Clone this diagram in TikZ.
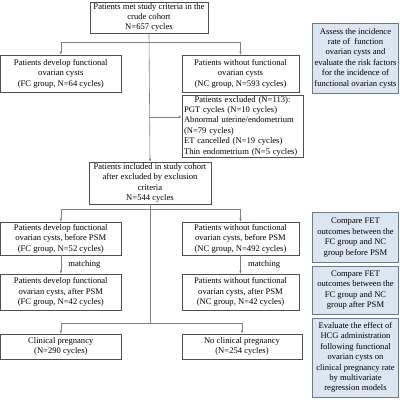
\documentclass[tikz,border=0pt]{standalone}
\usepackage{fontspec}
\setmainfont{Liberation Serif}
\usepackage{tikz}
\usetikzlibrary{positioning,calc,arrows.meta}
\definecolor{boxgray}{HTML}{4F4F4F}
\definecolor{linegray}{HTML}{7F7F7F}
\definecolor{aimblue}{HTML}{DCE6F1}
\definecolor{aimedge}{HTML}{6B7886}

\begin{document}
\begin{tikzpicture}[
x=1pt, y=1pt,
font=\fontsize{8.6}{10.4}\selectfont,
flowbox/.style={rectangle, draw=boxgray, fill=white, line width=0.6pt, align=center, inner sep=1pt},
aimbox/.style={rectangle, draw=aimedge, fill=aimblue, line width=0.7pt, align=center, inner sep=1pt, minimum width=86pt},
link/.style={draw=linegray, line width=0.6pt},
arrow/.style={link, -{Latex[length=3pt,width=2.6pt]}},
]
\useasboundingbox (0,0) rectangle (400,-400);

% main column
\node[flowbox, minimum width=118pt, minimum height=31pt] (crude) at (149,-17.5)
  {Patients met study criteria in the\\crude cohort\\N=657 cycles};
\node[flowbox, minimum width=120pt, minimum height=37pt] (fcall) at (60.8,-73.5)
  {Patients develop functional\\ovarian cysts\\(FC group, N=64 cycles)};
\node[flowbox, minimum width=117pt, minimum height=37pt] (ncall) at (240.5,-73.5)
  {Patients without functional\\ovarian cysts\\(NC group, N=593 cycles)};
\node[flowbox, minimum width=121pt, minimum height=60pt, text width=117pt, align=left] (excl) at (242.5,-126)
  {\makebox[117pt]{Patients excluded (N=113):}\\
   PGT cycles (N=10 cycles)\\Abnormal uterine/endometrium\\(N=79 cycles)\\
   ET cancelled (N=19 cycles)\\Thin endometrium (N=5 cycles)};
\node[flowbox, minimum width=122pt, minimum height=42pt] (incl) at (150,-183)
  {Patients included in study cohort\\after excluded by exclusion\\criteria\\N=544 cycles};
\node[flowbox, minimum width=120pt, minimum height=33pt] (fcpre) at (60.8,-238.5)
  {Patients develop functional\\ovarian cysts, before PSM\\(FC group, N=52 cycles)};
\node[flowbox, minimum width=117pt, minimum height=33pt] (ncpre) at (240.5,-238.5)
  {Patients without functional\\ovarian cysts, before PSM\\(NC group, N=492 cycles)};
\node[flowbox, minimum width=120pt, minimum height=36pt] (fcpost) at (60.8,-292)
  {Patients develop functional\\ovarian cysts, after PSM\\(FC group, N=42 cycles)};
\node[flowbox, minimum width=117pt, minimum height=36pt] (ncpost) at (240.5,-292)
  {Patients without functional\\ovarian cysts, after PSM\\(NC group, N=42 cycles)};
\node[flowbox, minimum width=120pt, minimum height=25pt] (preg) at (60.8,-346.5)
  {Clinical pregnancy\\(N=290 cycles)};
\node[flowbox, minimum width=120pt, minimum height=25pt] (nopreg) at (242,-346.5)
  {No clinical pregnancy\\(N=254 cycles)};

% aims
\node[aimbox, minimum height=70pt] (aimrisk) at (355.5,-58)
  {Assess the incidence\\rate of \ function\\ovarian cysts and\\evaluate the risk factors\\for the incidence of\\functional ovarian cysts};
\node[aimbox, minimum height=50pt] (aimpre) at (355.5,-237.5)
  {Compare FET\\outcomes between the\\FC group and NC\\group before PSM};
\node[aimbox, minimum height=48pt] (aimpost) at (355.5,-290)
  {Compare FET\\outcomes between the\\FC group and NC\\group after PSM};
\node[aimbox, minimum height=79pt] (aimhcg) at (355.5,-357.5)
  {Evaluate the effect of\\HCG administration\\following functional\\ovarian cysts on\\clinical pregnancy rate\\by multivariate\\regression models};

% connectors
\coordinate (split1) at (crude.south |- 0,-42);
\coordinate (excljoin) at (crude.south |- 0,-117);
\coordinate (split2) at (incl.south |- 0,-209);
\coordinate (split3) at (incl.south |- 0,-323);
\draw[arrow] (crude.south) -- (incl.north);
\draw[arrow] (split1) -| (fcall.north);
\draw[arrow] (split1) -| (ncall.north);
\draw[arrow] (excljoin) -- (excljoin -| excl.west);
\draw[link] (incl.south) -- (split3);
\draw[arrow] (split2) -| (fcpre.north);
\draw[arrow] (split2) -| (ncpre.north);
\draw[arrow] (fcpre.south) -- node[right=4pt] {matching} (fcpost.north);
\draw[arrow] (ncpre.south) -- node[right=4pt] {matching} (ncpost.north);
\draw[arrow] (split3) -| (preg.north);
\draw[arrow] (split3) -| (nopreg.north);
\end{tikzpicture}
\end{document}
